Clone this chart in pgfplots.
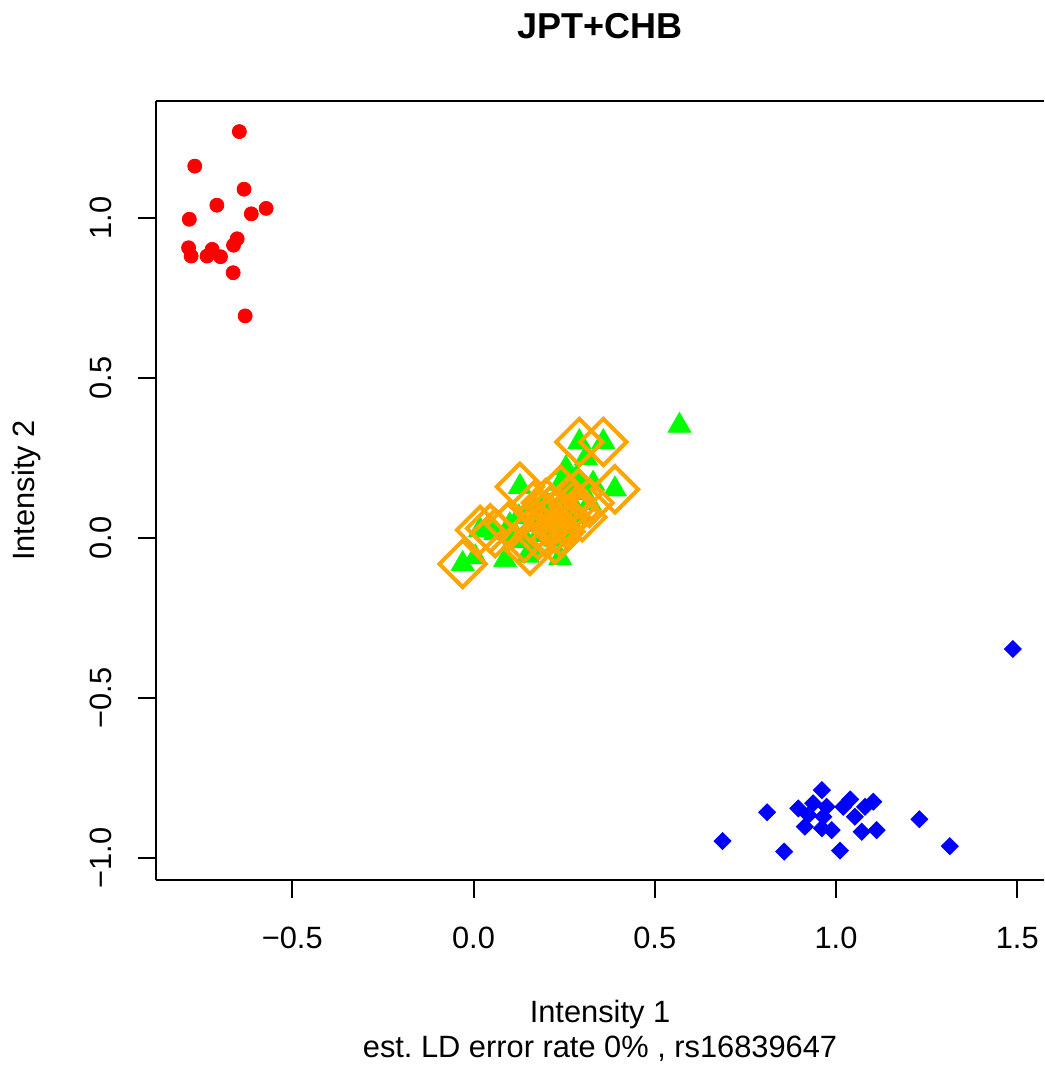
\documentclass[border=0pt]{standalone}
\usepackage{pgfplots}
\pgfplotsset{compat=1.18}
\usepackage{pgfplotstable}
\usepackage{fontspec}
\setmainfont{Liberation Sans}
\usetikzlibrary{calc}
\frenchspacing
\definecolor{rred}{RGB}{255,0,0}
\definecolor{rgreen}{RGB}{0,255,0}
\definecolor{rblue}{RGB}{0,0,255}
\definecolor{rorange}{RGB}{255,165,0}

% cluster AA
\pgfplotstableread{
x y
-0.646 1.270
-0.769 1.162
-0.633 1.090
-0.708 1.040
-0.613 1.013
-0.572 1.030
-0.784 0.996
-0.652 0.935
-0.662 0.915
-0.786 0.907
-0.779 0.881
-0.721 0.902
-0.735 0.881
-0.698 0.879
-0.663 0.829
-0.630 0.694
}\redpts

% cluster AB
\pgfplotstableread{
x y
-0.030 -0.081
 0.005 -0.060
 0.018  0.025
 0.046  0.030
 0.060  0.015
 0.087 -0.069
 0.100  0.040
 0.110 -0.010
 0.125  0.065
 0.128  0.160
 0.140  0.000
 0.150 -0.055
 0.156 -0.040
 0.165  0.100
 0.175  0.040
 0.180  0.010
 0.185  0.075
 0.195  0.020
 0.200  0.110
 0.210  0.060
 0.215  0.090
 0.225 -0.005
 0.225  0.030
 0.235  0.080
 0.240  0.020
 0.240  0.170
 0.239 -0.063
 0.250  0.050
 0.258  0.166
 0.255  0.218
 0.260  0.060
 0.265  0.120
 0.275  0.100
 0.280  0.080
 0.285  0.190
 0.290  0.140
 0.292  0.300
 0.300  0.065
 0.310  0.250
 0.320  0.110
 0.330  0.170
 0.358  0.300
 0.390  0.152
 0.568  0.351
}\greenpts

% cluster BB
\pgfplotstableread{
x y
0.687 -0.947
0.810 -0.857
0.857 -0.980
1.011 -0.977
1.230 -0.879
1.314 -0.963
0.961 -0.788
1.103 -0.824
1.112 -0.913
1.071 -0.918
1.039 -0.817
0.914 -0.902
0.961 -0.907
0.988 -0.913
0.896 -0.845
1.052 -0.871
1.080 -0.840
1.020 -0.840
0.937 -0.829
0.974 -0.840
0.924 -0.866
0.965 -0.871
1.488 -0.347
}\bluepts

% highlighted samples
\pgfplotstableread{
x y
-0.030 -0.081
 0.018  0.025
 0.046  0.030
 0.060  0.015
 0.100  0.040
 0.128  0.160
 0.140  0.000
 0.156 -0.040
 0.165  0.100
 0.175  0.040
 0.180  0.010
 0.185  0.075
 0.195  0.020
 0.200  0.110
 0.210  0.060
 0.215  0.090
 0.225 -0.005
 0.225  0.030
 0.235  0.080
 0.240  0.020
 0.240  0.150
 0.250  0.050
 0.260  0.060
 0.265  0.120
 0.275  0.100
 0.280  0.080
 0.290  0.140
 0.292  0.300
 0.300  0.065
 0.320  0.110
 0.358  0.300
 0.390  0.152
}\orangepts

\begin{document}
\begin{tikzpicture}
\begin{axis}[
  scale only axis,
  width=444pt, height=389.5pt,
  xmin=-0.8759, xmax=1.5738,
  ymin=-1.06875, ymax=1.3656,
  axis x line*=bottom, axis y line*=left,
  axis line style={-, line width=1pt, black},
  tick align=outside, major tick length=9pt,
  tick style={line width=1pt, black},
  xtick={-0.5,0,0.5,1,1.5},
  xticklabels={−0.5,0.0,0.5,1.0,1.5},
  ytick={-1,-0.5,0,0.5,1},
  yticklabels={−1.0,−0.5,0.0,0.5,1.0},
  tick label style={font=\fontsize{15.4}{18.5}\selectfont},
  xticklabel style={anchor=base, yshift=-25pt},
  yticklabel style={rotate=90, anchor=base, yshift=13pt},
  title={JPT+CHB},
  title style={at={(axis description cs:0.5,1)}, anchor=base, yshift=25pt,
    font=\bfseries\fontsize{18}{21}\selectfont},
  xlabel={Intensity 1},
  xlabel style={at={(axis description cs:0.5,0)}, anchor=base, yshift=-71pt,
    font=\fontsize{15.4}{18.5}\selectfont},
  ylabel={Intensity 2},
  ylabel style={at={(axis description cs:-0.1363,0.5)}, anchor=base, rotate=0,
    font=\fontsize{15.4}{18.5}\selectfont},
]
\addplot[only marks, color=rred, mark=*, mark size=3.5pt] table {\redpts};
\addplot[only marks, color=rgreen, mark=triangle*, mark size=6.6pt] table {\greenpts};
\addplot[only marks, color=rblue, mark=square*, mark size=3.0pt, mark options={rotate=45}] table {\bluepts};
\addplot[only marks, color=rorange, mark=square, mark size=8.2pt, mark options={rotate=45, line width=2pt}] table {\orangepts};
\end{axis}
\draw[line width=1pt] (current axis.north west) -- (current axis.north east);
\node[anchor=base, font=\fontsize{15.4}{18.5}\selectfont] at ($(current axis.south)+(0,-88.5pt)$) {est. LD error rate 0\% , rs16839647};
\pgfresetboundingbox
\path[use as bounding box] ($(current axis.south west)+(-78pt,-95pt)$) rectangle ($(current axis.north east)+(0,50.5pt)$);
\end{tikzpicture}
\end{document}
